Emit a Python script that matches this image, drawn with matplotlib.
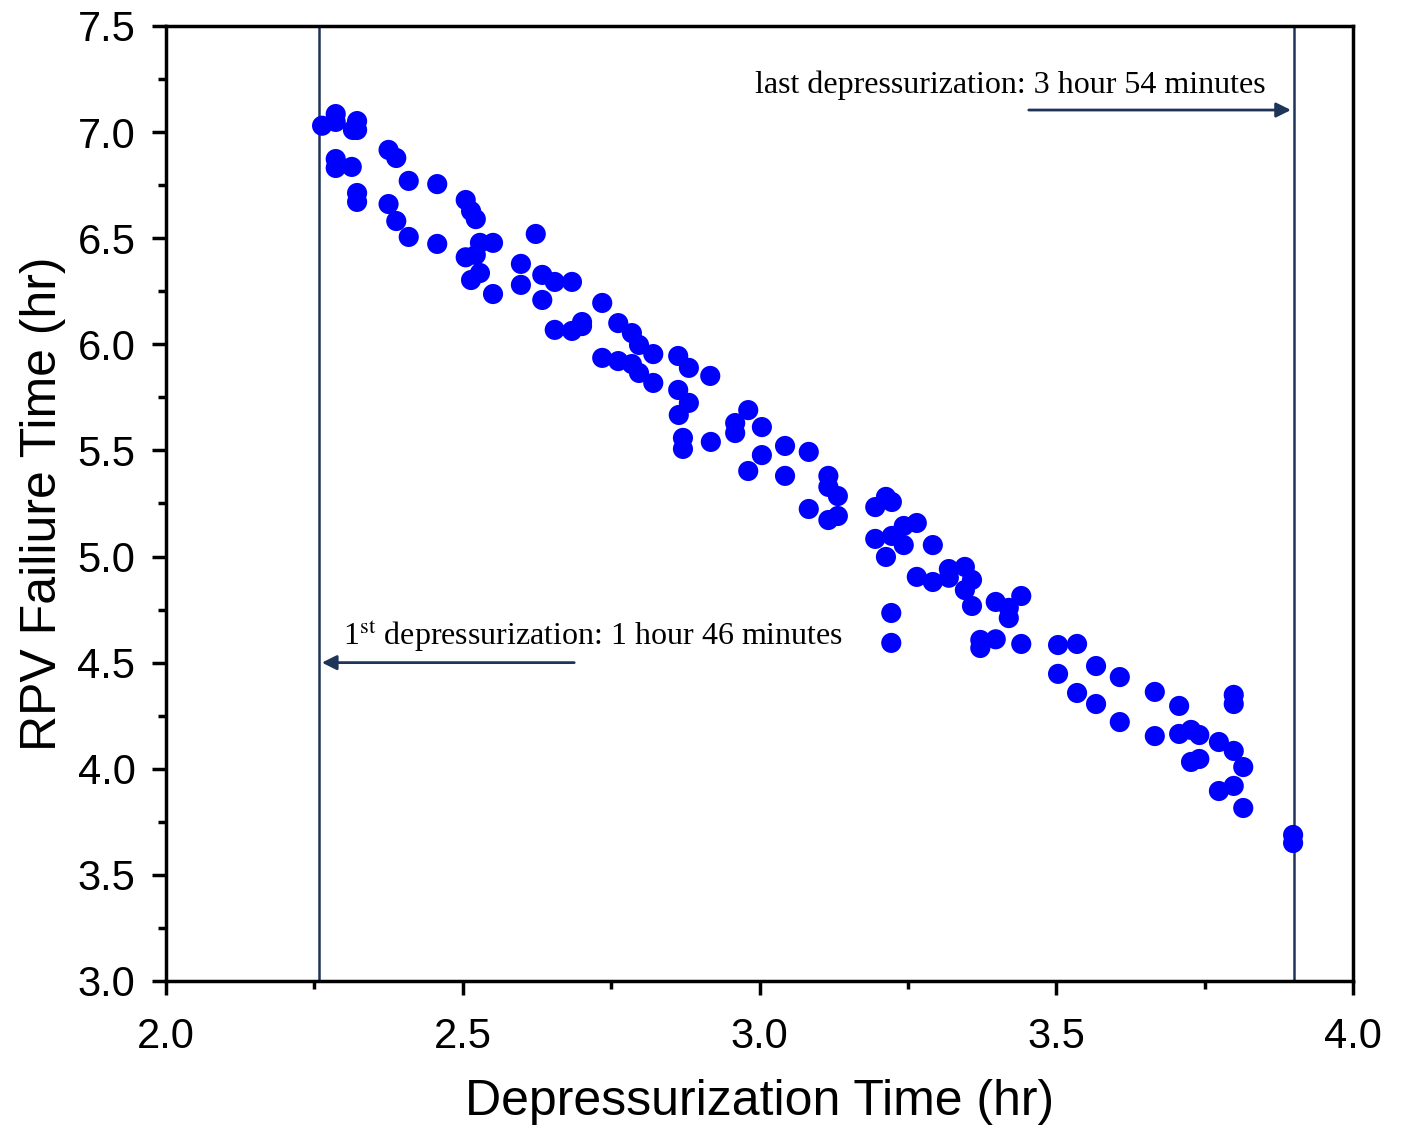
import matplotlib.pyplot as plt
from matplotlib.ticker import MultipleLocator

# 감압 시간 (hr) / RPV 파손 시간 (hr)
depress_time = [
    2.263, 2.286, 2.286, 2.322, 2.315, 2.322, 2.286, 2.286, 2.313, 2.322,
    2.322, 2.375, 2.388, 2.409, 2.457, 2.375, 2.388, 2.409, 2.457, 2.505,
    2.514, 2.522, 2.529, 2.551, 2.505, 2.522, 2.514, 2.529, 2.551, 2.623,
    2.598, 2.598, 2.634, 2.634, 2.655, 2.684, 2.735, 2.655, 2.684, 2.701,
    2.701, 2.762, 2.785, 2.797, 2.821, 2.735, 2.762, 2.785, 2.797, 2.821,
    2.863, 2.881, 2.917, 2.863, 2.881, 2.864, 2.871, 2.871, 2.918, 2.981,
    2.959, 2.959, 3.004, 3.004, 2.981, 3.043, 3.043, 3.083, 3.116, 3.116,
    3.132, 3.083, 3.116, 3.132, 3.213, 3.223, 3.195, 3.243, 3.265, 3.195,
    3.223, 3.243, 3.292, 3.213, 3.265, 3.292, 3.319, 3.319, 3.346, 3.358,
    3.346, 3.358, 3.398, 3.420, 3.420, 3.441, 3.222, 3.222, 3.372, 3.372,
    3.398, 3.441, 3.503, 3.535, 3.567, 3.607, 3.503, 3.535, 3.567, 3.607,
    3.666, 3.707, 3.799, 3.799, 3.666, 3.707, 3.727, 3.741, 3.774, 3.799,
    3.815, 3.727, 3.741, 3.774, 3.799, 3.815, 3.899, 3.899,
]
rpv_fail_time = [
    7.03, 7.085, 7.048, 7.052, 7.01, 7.01, 6.873, 6.831, 6.836, 6.713,
    6.671, 6.916, 6.878, 6.77, 6.755, 6.661, 6.581, 6.506, 6.473, 6.68,
    6.628, 6.59, 6.478, 6.478, 6.41, 6.421, 6.303, 6.336, 6.237, 6.52,
    6.379, 6.28, 6.327, 6.209, 6.294, 6.294, 6.195, 6.068, 6.063, 6.105,
    6.086, 6.10, 6.053, 5.997, 5.954, 5.936, 5.921, 5.907, 5.865, 5.818,
    5.945, 5.889, 5.851, 5.785, 5.724, 5.667, 5.559, 5.507, 5.54, 5.69,
    5.629, 5.582, 5.61, 5.478, 5.403, 5.521, 5.38, 5.493, 5.38, 5.328,
    5.285, 5.224, 5.172, 5.191, 5.281, 5.257, 5.233, 5.144, 5.158, 5.083,
    5.097, 5.054, 5.054, 4.998, 4.904, 4.88, 4.941, 4.90, 4.951, 4.89,
    4.842, 4.767, 4.786, 4.758, 4.71, 4.814, 4.734, 4.593, 4.607, 4.569,
    4.61, 4.588, 4.583, 4.588, 4.484, 4.432, 4.447, 4.357, 4.305, 4.22,
    4.362, 4.296, 4.348, 4.305, 4.154, 4.164, 4.183, 4.159, 4.126, 4.084,
    4.008, 4.032, 4.046, 3.895, 3.919, 3.815, 3.688, 3.65,
]

# 첫 번째 / 마지막 감압 시점 (그림 기준 위치)
first_depress = 2.258
last_depress = 3.9

line_color = '#1f3459'

fig = plt.figure(figsize=(14.03, 11.3), dpi=100)
ax = fig.add_axes([0.1183, 0.1319, 0.8461, 0.8451])

ax.scatter(depress_time, rpv_fail_time, s=210, color='#0000ff', edgecolors='none', zorder=3)

ax.axvline(first_depress, color=line_color, lw=1.8, zorder=2)
ax.axvline(last_depress, color=line_color, lw=1.8, zorder=2)

# 화살표 + 주석
ax.annotate('', xy=(last_depress, 7.104), xytext=(3.449, 7.104),
            arrowprops=dict(arrowstyle='-|>', color=line_color, lw=2, mutation_scale=22))
ax.text(2.992, 7.22, 'last depressurization: 3 hour 54 minutes', fontsize=23,
        family='Liberation Serif', va='center', ha='left')
ax.annotate('', xy=(first_depress, 4.5), xytext=(2.6925, 4.5),
            arrowprops=dict(arrowstyle='-|>', color=line_color, lw=2, mutation_scale=22))
ax.text(2.298, 4.625, r'1$^{\mathrm{st}}$ depressurization: 1 hour 46 minutes', fontsize=23,
        family='Liberation Serif', va='center', ha='left', math_fontfamily='stix')

ax.set_xlim(2.0, 4.0)
ax.set_ylim(3.0, 7.5)
ax.xaxis.set_major_locator(MultipleLocator(0.5))
ax.xaxis.set_minor_locator(MultipleLocator(0.25))
ax.yaxis.set_major_locator(MultipleLocator(0.5))
ax.yaxis.set_minor_locator(MultipleLocator(0.25))
ax.xaxis.set_major_formatter(plt.FormatStrFormatter('%.1f'))
ax.yaxis.set_major_formatter(plt.FormatStrFormatter('%.1f'))

ax.tick_params(which='major', direction='out', length=10, width=2.5, labelsize=30)
ax.tick_params(axis='x', which='major', pad=16)
ax.tick_params(axis='y', which='major', pad=12)
ax.tick_params(which='minor', direction='out', length=6, width=2.5)
for lab in ax.get_xticklabels() + ax.get_yticklabels():
    lab.set_family('Liberation Sans')
for sp in ax.spines.values():
    sp.set_linewidth(2.5)

ax.set_xlabel('Depressurization Time (hr)', fontsize=36, family='Liberation Sans', labelpad=16)
ax.set_ylabel('RPV Failiure Time (hr)', fontsize=36, family='Liberation Sans', labelpad=8)

plt.savefig('out.png', dpi=100)
